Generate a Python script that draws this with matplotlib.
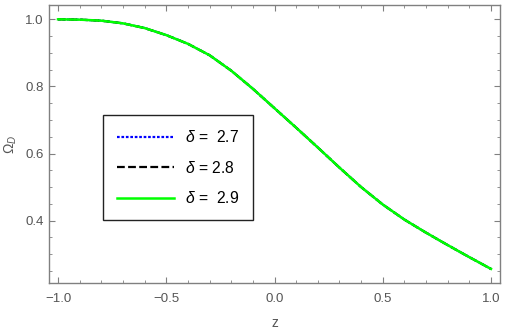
import matplotlib
matplotlib.use("Agg")
import matplotlib.pyplot as plt
from matplotlib.ticker import MultipleLocator, FuncFormatter

plt.rcParams['font.family'] = ['Liberation Sans', 'DejaVu Sans']
plt.rcParams['mathtext.fontset'] = 'custom'
plt.rcParams['mathtext.it'] = 'Liberation Sans:italic'
plt.rcParams['mathtext.rm'] = 'Liberation Sans'

z = [-1.0, -0.9, -0.8, -0.7, -0.6, -0.5, -0.4, -0.3, -0.2, -0.1, 0.0,
     0.1, 0.2, 0.3, 0.4, 0.5, 0.6, 0.7, 0.8, 0.9, 1.0]
omega_27 = [1.000, 0.999, 0.996, 0.988, 0.974, 0.953, 0.927, 0.893, 0.847, 0.793, 0.735,
            0.677, 0.618, 0.558, 0.500, 0.448, 0.403, 0.364, 0.327, 0.291, 0.256]
omega_28 = [1.000, 0.999, 0.996, 0.988, 0.974, 0.953, 0.927, 0.893, 0.847, 0.793, 0.735,
            0.677, 0.618, 0.558, 0.500, 0.448, 0.403, 0.364, 0.327, 0.291, 0.256]
omega_29 = [1.000, 0.999, 0.996, 0.988, 0.974, 0.953, 0.927, 0.893, 0.847, 0.793, 0.735,
            0.677, 0.618, 0.558, 0.500, 0.448, 0.403, 0.364, 0.327, 0.291, 0.256]
labels = [r"$\delta$ =  2.7", r"$\delta$ = 2.8", r"$\delta$ =  2.9"]

fig = plt.figure(figsize=(5.07, 3.32), dpi=100)
ax = fig.add_axes([49/507, 1-283/332, 451/507, 278/332])

ax.plot(z, omega_27, color=(0, 0, 1), ls=(0, (1.2, 0.8)), lw=1.6, label=labels[0])
ax.plot(z, omega_28, color='black', ls=(0, (3.5, 1.5)), lw=1.6, label=labels[1])
ax.plot(z, omega_29, color=(0, 1, 0), ls='-', lw=1.8, label=labels[2])

ax.set_xlim(-1.0416, 1.0416)
ax.set_ylim(0.214, 1.0427)

gray = '#808080'
for s in ax.spines.values():
    s.set_color(gray)
    s.set_linewidth(1.0)

ax.xaxis.set_major_locator(MultipleLocator(0.5))
ax.xaxis.set_minor_locator(MultipleLocator(0.1))
ax.yaxis.set_major_locator(MultipleLocator(0.2))
ax.yaxis.set_minor_locator(MultipleLocator(0.05))
ax.tick_params(which='both', direction='in', color=gray, top=True, right=True,
               labelcolor='#555555', labelsize=9.5)
ax.tick_params(which='major', length=4, width=0.8)
ax.tick_params(which='minor', length=2.2, width=0.6)
ax.tick_params(axis='x', pad=7)
ax.tick_params(axis='y', pad=4)
ax.tick_params(top=True, right=True, labeltop=False, labelright=False)
ax.xaxis.set_major_formatter(FuncFormatter(lambda v, p: f"{v:.1f}".replace('-', '\u2212')))
ax.yaxis.set_major_formatter(FuncFormatter(lambda v, p: f"{v:.1f}"))

ax.set_xlabel("z", color='#555555', fontsize=10, labelpad=8)
ax.set_ylabel(r"$\Omega_D$", color='#555555', fontsize=10, labelpad=4)

leg = ax.legend(loc='upper left', bbox_to_anchor=(0.12, 0.604), borderaxespad=0,
                fancybox=False, edgecolor='#222222', framealpha=1, fontsize=11.3,
                handlelength=3.6, labelspacing=0.92, borderpad=0.9, handletextpad=0.7)
leg.get_frame().set_linewidth(1.0)

fig.savefig("out.png", dpi=100)
